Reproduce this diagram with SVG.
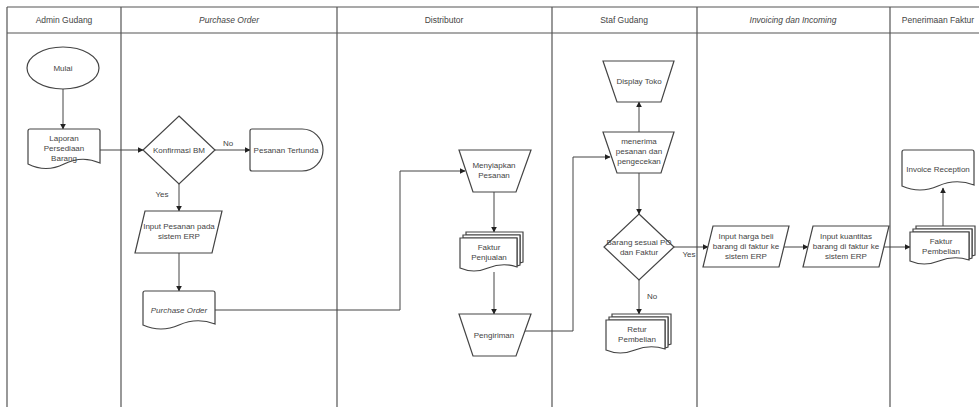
<svg xmlns="http://www.w3.org/2000/svg" width="979" height="407" viewBox="0 0 979 407">
<defs>
<marker id="arr" viewBox="0 0 10 10" refX="9" refY="5" markerWidth="6" markerHeight="6" orient="auto" markerUnits="userSpaceOnUse">
<path d="M0,0 L10,5 L0,10 Z" fill="#222"/>
</marker>
<style>
.sh{fill:#fff;stroke:#444;stroke-width:1.2}
.ln{fill:none;stroke:#444;stroke-width:1}
.fr{fill:none;stroke:#555;stroke-width:1.2}
text{font-family:"Liberation Sans",Arial,sans-serif;font-size:8px;fill:#444;text-anchor:middle}
.hd{font-size:8.5px}
.it{font-style:italic}
</style>
</defs>
<rect width="979" height="407" fill="#fff"/>
<g id="lanes">
<path class="fr" d="M7,7 H979 M7,33 H979 M7,7 V407 M121,7 V407 M337,7 V407 M552,7 V407 M697,7 V407 M890,7 V407"/>
<text class="hd" x="64" y="23">Admin Gudang</text>
<text class="hd it" x="229" y="23">Purchase Order</text>
<text class="hd" x="444" y="23">Distributor</text>
<text class="hd" x="624" y="23">Staf Gudang</text>
<text class="hd it" x="793" y="23">Invoicing dan Incoming</text>
<text class="hd" x="938" y="23">Penerimaan Faktur</text>
</g>
<g id="connectors">
<path class="ln" marker-end="url(#arr)" d="M63,89 V129"/>
<path class="ln" marker-end="url(#arr)" d="M100,150 H143"/>
<path class="ln" marker-end="url(#arr)" d="M215,150 H250"/>
<text x="228" y="146">No</text>
<path class="ln" marker-end="url(#arr)" d="M179,184 V211"/>
<text x="162" y="197">Yes</text>
<path class="ln" marker-end="url(#arr)" d="M179,253 V291"/>
<path class="ln" marker-end="url(#arr)" d="M215,310 H400 V171 H465"/>
<path class="ln" marker-end="url(#arr)" d="M494,192 V232"/>
<path class="ln" marker-end="url(#arr)" d="M494,272 V314"/>
<path class="ln" marker-end="url(#arr)" d="M524,331 H573 V157 H610"/>
<path class="ln" marker-end="url(#arr)" d="M639,132 V102"/>
<path class="ln" marker-end="url(#arr)" d="M639,173 V214"/>
<path class="ln" marker-end="url(#arr)" d="M639,280 V314"/>
<text x="652" y="299">No</text>
<path class="ln" marker-end="url(#arr)" d="M674,247 H708"/>
<text x="689" y="257">Yes</text>
<path class="ln" marker-end="url(#arr)" d="M784,247 H808"/>
<path class="ln" marker-end="url(#arr)" d="M884,247 H910"/>
<path class="ln" marker-end="url(#arr)" d="M943,226 V188"/>
</g>
<g id="mulai">
<ellipse class="sh" cx="63" cy="68" rx="36" ry="21"/>
<text x="63" y="71">Mulai</text>
</g>
<g id="laporan">
<path class="sh" d="M28,131 Q28,129 30,129 H98 Q100,129 100,131 V163 Q82,155 64,164 Q46,173 28,164 Z"/>
<text x="64" y="141">Laporan</text>
<text x="64" y="151">Persediaan</text>
<text x="64" y="161">Barang</text>
</g>
<g id="konfirmasi">
<path class="sh" d="M179,116 L215,150 L179,184 L143,150 Z"/>
<text x="179" y="153">Konfirmasi BM</text>
</g>
<g id="tertunda">
<path class="sh" d="M250,131 Q250,129 252,129 H302 A21,21 0 0 1 302,171 H252 Q250,171 250,169 Z"/>
<text x="286" y="153">Pesanan Tertunda</text>
</g>
<g id="input-pesanan">
<path class="sh" d="M145,211 H222 L212,253 H135 Z"/>
<text x="179" y="229">Input Pesanan pada</text>
<text x="179" y="239">sistem ERP</text>
</g>
<g id="purchase-order">
<path class="sh" d="M143,293 Q143,291 145,291 H213 Q215,291 215,293 V324 Q197,317 179,325 Q161,333 143,325 Z"/>
<text class="it" x="179" y="313">Purchase Order</text>
</g>
<g id="menyiapkan">
<path class="sh" d="M459,150 H531 L516,192 H473 Z"/>
<text x="494" y="168">Menyiapkan</text>
<text x="494" y="178">Pesanan</text>
</g>
<g id="faktur-penjualan">
<path class="sh" d="M466,232 H523 V262 L520,263 V235 H466 Z"/>
<path class="sh" d="M463,235 H520 V265 L517,266 V238 H463 Z"/>
<path class="sh" d="M460,238 H517 V267 Q503,262 488,268 Q474,274 460,268 Z"/>
<text x="489" y="250">Faktur</text>
<text x="489" y="260">Penjualan</text>
</g>
<g id="pengiriman">
<path class="sh" d="M459,314 H531 L516,356 H473 Z"/>
<text x="494" y="338">Pengiriman</text>
</g>
<g id="display-toko">
<path class="sh" d="M603,61 H674 L661,102 H617 Z"/>
<text x="639" y="84">Display Toko</text>
</g>
<g id="menerima">
<path class="sh" d="M603,132 H674 L661,173 H617 Z"/>
<text x="639" y="144">menerima</text>
<text x="639" y="154">pesanan dan</text>
<text x="639" y="164">pengecekan</text>
</g>
<g id="barang-sesuai">
<path class="sh" d="M639,214 L674,247 L639,280 L604,247 Z"/>
<text x="639" y="245">Barang sesuai PO</text>
<text x="639" y="255">dan Faktur</text>
</g>
<g id="retur">
<path class="sh" d="M612,314 H671 V344 L668,345 V317 H612 Z"/>
<path class="sh" d="M609,317 H668 V347 L665,348 V320 H609 Z"/>
<path class="sh" d="M606,320 H665 V349 Q650,344 635,350 Q620,356 606,350 Z"/>
<text x="637" y="332">Retur</text>
<text x="637" y="342">Pembelian</text>
</g>
<g id="input-harga">
<path class="sh" d="M713,226 H789 L779,267 H703 Z"/>
<text x="746" y="239">Input harga beli</text>
<text x="746" y="249">barang di faktur ke</text>
<text x="746" y="259">sistem ERP</text>
</g>
<g id="input-kuantitas">
<path class="sh" d="M813,226 H889 L879,267 H803 Z"/>
<text x="846" y="239">Input kuantitas</text>
<text x="846" y="249">barang di faktur ke</text>
<text x="846" y="259">sistem ERP</text>
</g>
<g id="faktur-pembelian">
<path class="sh" d="M916,226 H975 V255 L972,256 V229 H916 Z"/>
<path class="sh" d="M913,229 H972 V258 L969,259 V232 H913 Z"/>
<path class="sh" d="M910,232 H969 V260 Q954,255 939,261 Q924,267 910,261 Z"/>
<text x="941" y="244">Faktur</text>
<text x="941" y="254">Pembelian</text>
</g>
<g id="invoice-reception">
<path class="sh" d="M902,152 Q902,150 904,150 H972 Q974,150 974,152 V185 Q956,178 938,186 Q920,194 902,186 Z"/>
<text x="938" y="172">Invoice Reception</text>
</g>
</svg>
